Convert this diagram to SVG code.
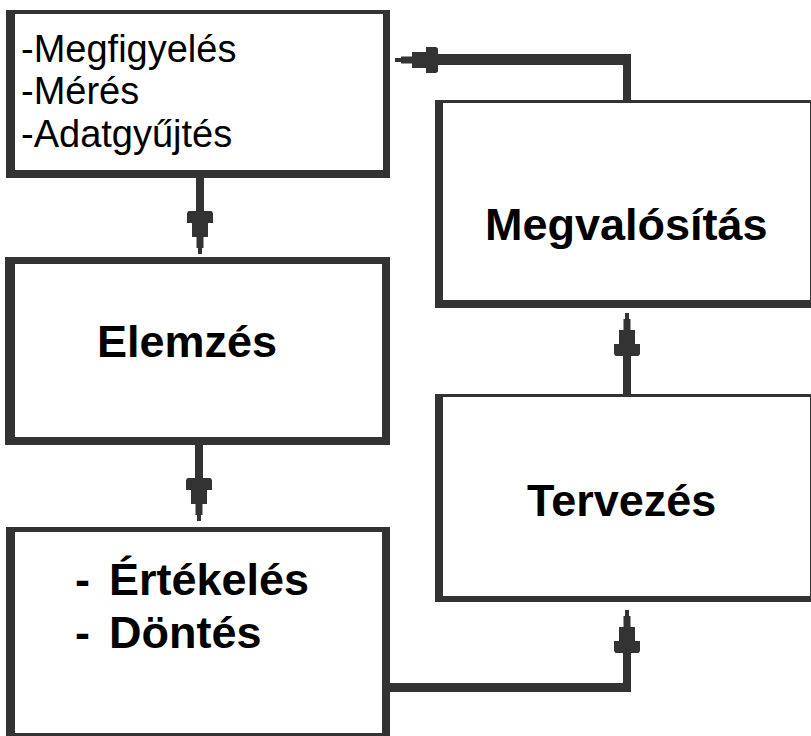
<svg xmlns="http://www.w3.org/2000/svg" width="811" height="736" viewBox="0 0 811 736">
<style>
.frame{fill:#333333}
.inner{fill:#ffffff}
.t{font-family:"Liberation Sans",Arial,sans-serif;fill:#000000}
.reg{font-size:38px}
.bold{font-size:45px;font-weight:bold}
.conn{stroke:#333333;fill:none;stroke-linecap:butt}
.ah{fill:#333333}
</style>
<defs>
<path id="ah" d="M -2,0 L 2,0 L 2,-6 L 3.5,-6 L 3.5,-17 L 8,-17 L 8,-31 L 13,-31 L 13,-41 L 11.5,-43 L -11.5,-43 L -13,-41 L -13,-31 L -8,-31 L -8,-17 L -3.5,-17 L -3.5,-6 L -2,-6 Z"/>
</defs>
<rect width="811" height="736" fill="#ffffff"/>
<g id="node-megfigyeles">
<rect class="frame" x="6" y="10" width="384" height="168"/>
<rect class="inner" x="15" y="14" width="368" height="156"/>
<text class="t reg" x="21" y="62">-Megfigyelés</text>
<text class="t reg" x="21" y="104">-Mérés</text>
<text class="t reg" x="21" y="147">-Adatgyűjtés</text>
</g>
<g id="node-elemzes">
<rect class="frame" x="5" y="257" width="385" height="188"/>
<rect class="inner" x="15" y="264" width="367" height="173"/>
<text class="t bold" x="97" y="357">Elemzés</text>
</g>
<g id="node-ertekeles">
<rect class="frame" x="6" y="527" width="384" height="212"/>
<rect class="inner" x="15" y="532" width="367" height="201"/>
<text class="t bold" x="75" y="595" xml:space="preserve">- <tspan x="109">Értékelés</tspan></text>
<text class="t bold" x="75" y="648" xml:space="preserve">- <tspan x="109">Döntés</tspan></text>
</g>
<g id="node-megvalositas">
<rect class="frame" x="435" y="100" width="377" height="208"/>
<rect class="inner" x="443" y="103" width="367" height="197"/>
<text class="t bold" x="485" y="240">Megvalósítás</text>
</g>
<g id="node-tervezes">
<rect class="frame" x="435" y="394" width="377" height="208"/>
<rect class="inner" x="443" y="397" width="367" height="199"/>
<text class="t bold" x="527" y="516">Tervezés</text>
</g>
<g id="connectors">
<line class="conn" x1="200" y1="178" x2="200" y2="212" stroke-width="8"/>
<use href="#ah" class="ah" transform="translate(200,254)"/>
<line class="conn" x1="199" y1="445" x2="199" y2="479" stroke-width="8"/>
<use href="#ah" class="ah" transform="translate(199,521)"/>
<line class="conn" x1="627" y1="394" x2="627" y2="355" stroke-width="8"/>
<use href="#ah" class="ah" transform="translate(627,313) rotate(180)"/>
<line class="conn" x1="390" y1="687.5" x2="631" y2="687.5" stroke-width="9"/>
<line class="conn" x1="627" y1="692" x2="627" y2="652" stroke-width="8"/>
<use href="#ah" class="ah" transform="translate(627,610) rotate(180)"/>
<line class="conn" x1="627" y1="100" x2="627" y2="54" stroke-width="8"/>
<line class="conn" x1="631" y1="59.5" x2="436" y2="59.5" stroke-width="11"/>
<use href="#ah" class="ah" transform="translate(395,60) rotate(90)"/>
</g>
</svg>
